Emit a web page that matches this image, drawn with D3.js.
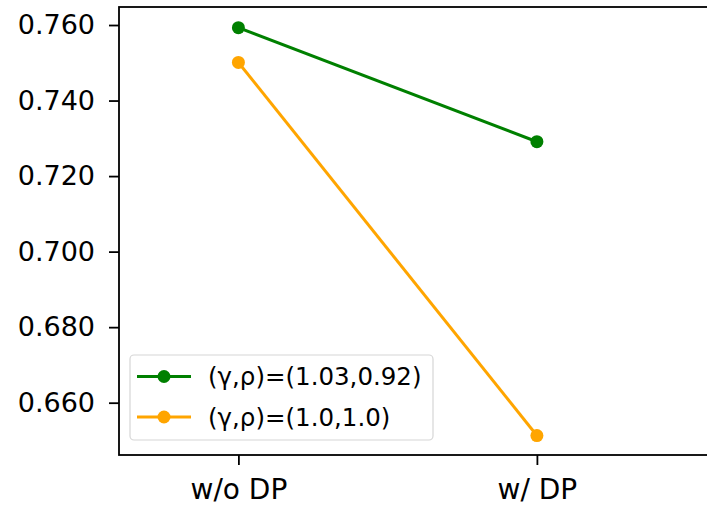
<!DOCTYPE html>
<html><head><meta charset="utf-8">
<script src="https://cdn.jsdelivr.net/npm/d3@7"></script>
<style>body{margin:0;background:#fff}svg{display:block}text{font-family:"DejaVu Sans",sans-serif;fill:#000}</style>
</head><body>
<script>
const categories = ["w/o DP", "w/ DP"];
const seriesNames = ["(γ,ρ)=(1.03,0.92)", "(γ,ρ)=(1.0,1.0)"];
const greenValues = [0.7593, 0.7291];
const orangeValues = [0.7501, 0.6513];
const yTicks = [0.660, 0.680, 0.700, 0.720, 0.740, 0.760];
const colors = ["#008000", "#FFA500"];
const series = [greenValues, orangeValues];

(function () {
const W = 707, H = 510;
const svg = d3.select("body").append("svg").attr("width", W).attr("height", H);
const mLeft = 119, mTop = 7, mBottom = 455, mRight = 760;
const x = d3.scaleLinear().domain([-0.4, 1.6]).range([mLeft, mLeft + (536.5 - 238) * 2]);
const y = d3.scaleLinear().domain([0.64615, 0.76477]).range([mBottom, mTop]);

const line = d3.line().x((d, i) => x(i)).y(d => y(d));
series.forEach((s, k) => {
  svg.append("path").datum(s).attr("d", line).attr("fill", "none")
    .attr("stroke", colors[k]).attr("stroke-width", 3).attr("stroke-linecap", "square");
  svg.selectAll(null).data(s).enter().append("circle")
    .attr("cx", (d, i) => x(i)).attr("cy", d => y(d)).attr("r", 6.5).attr("fill", colors[k]);
});

svg.append("rect").attr("x", mLeft).attr("y", mTop).attr("width", mRight - mLeft).attr("height", mBottom - mTop)
  .attr("fill", "none").attr("stroke", "#000").attr("stroke-width", 1.8);

const yAxis = d3.axisLeft(y).tickValues(yTicks).tickFormat(d3.format(".3f")).tickSize(10).tickPadding(14);
const gy = svg.append("g").attr("transform", `translate(${mLeft},0)`).call(yAxis);
gy.select(".domain").remove();
gy.selectAll("line").attr("stroke", "#000").attr("stroke-width", 1.8);
gy.selectAll("text").style("font-size", "27px").attr("font-family", "DejaVu Sans");

const xAxis = d3.axisBottom(x).tickValues([0, 1]).tickFormat(i => categories[i]).tickSize(10).tickPadding(14);
const gx = svg.append("g").attr("transform", `translate(0,${mBottom})`).call(xAxis);
gx.select(".domain").remove();
gx.selectAll("line").attr("stroke", "#000").attr("stroke-width", 1.8);
gx.selectAll("text").style("font-size", "28px").attr("font-family", "DejaVu Sans");

const lg = svg.append("g");
lg.append("rect").attr("x", 130).attr("y", 355).attr("width", 303).attr("height", 85).attr("rx", 4)
  .attr("fill", "#fff").attr("fill-opacity", 0.8).attr("stroke", "#d6d6d6").attr("stroke-width", 1.2);
seriesNames.forEach((name, k) => {
  const cy = 376.5 + k * 40.5;
  lg.append("line").attr("x1", 137).attr("x2", 191).attr("y1", cy).attr("y2", cy)
    .attr("stroke", colors[k]).attr("stroke-width", 3);
  lg.append("circle").attr("cx", 164).attr("cy", cy).attr("r", 6.5).attr("fill", colors[k]);
  lg.append("text").attr("x", 208).attr("y", cy).attr("dy", "0.36em").style("font-size", "24.5px").text(name);
});
})();
</script>
</body></html>
